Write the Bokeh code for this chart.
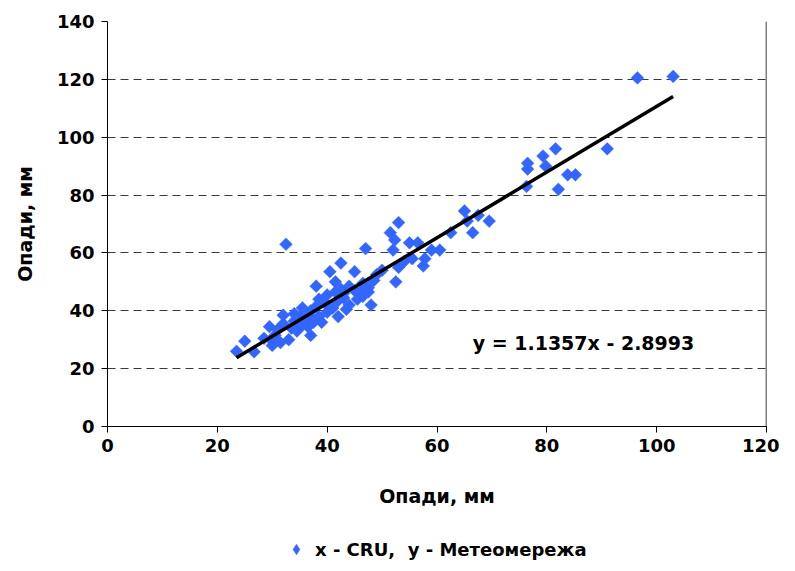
import numpy as np
from bokeh.plotting import figure
from bokeh.layouts import column
from bokeh.models import Legend, LegendItem, Span, Label, Range1d, FixedTicker
from bokeh.embed import file_html
from bokeh.resources import INLINE

# x - CRU precipitation (mm), y - station network precipitation (mm)
cru_x = [23.5, 25.0, 26.7, 28.5, 29.5, 29.8, 30.0, 30.5, 31.0, 31.5, 32.0, 32.0, 32.5, 33.0,
         33.5, 34.0, 34.0, 34.5, 35.0, 35.0, 35.5, 35.5, 36.0, 36.5, 37.0, 37.0, 37.5, 37.5,
         38.0, 38.0, 38.5, 38.5, 39.0, 39.5, 40.0, 40.0, 40.5, 40.5, 41.0, 41.5, 41.5, 42.0,
         42.0, 42.5, 42.5, 43.0, 43.0, 43.5, 44.0, 44.0, 45.0, 45.0, 45.5, 46.0, 46.5, 46.5,
         47.0, 47.5, 47.5, 48.0, 48.5, 49.0, 50.0, 51.5, 52.0, 52.3, 52.5, 53.0, 53.0, 54.0,
         55.0, 55.5, 56.5, 57.5, 57.8, 59.0, 60.5, 62.5, 65.0, 65.5, 66.5, 67.5, 69.5, 76.3,
         76.5, 76.5, 79.3, 79.8, 81.6, 82.1, 83.8, 85.2, 91.0, 96.5, 103.0]
meteo_y = [26.0, 29.5, 25.8, 30.5, 34.5, 30.0, 28.0, 31.5, 33.5, 29.0, 38.5, 35.5, 63.0, 30.0,
           34.0, 36.5, 39.0, 33.0, 38.0, 36.5, 41.0, 35.0, 37.5, 34.5, 40.0, 31.5, 36.0, 37.0,
           41.5, 48.5, 38.0, 44.0, 36.0, 43.0, 45.5, 39.5, 53.5, 41.0, 41.0, 46.5, 50.0, 43.5,
           38.0, 47.5, 56.5, 44.5, 46.0, 40.5, 48.5, 42.0, 47.0, 53.5, 44.0, 46.5, 49.5, 45.0,
           61.5, 46.5, 48.0, 42.0, 50.5, 52.5, 54.0, 67.0, 61.0, 64.5, 50.0, 70.5, 55.0, 57.0,
           63.5, 58.0, 63.5, 55.5, 58.0, 61.0, 61.0, 67.0, 74.5, 71.0, 67.0, 73.0, 71.0, 83.0,
           89.0, 91.0, 93.5, 90.0, 96.0, 82.0, 87.0, 87.0, 96.0, 120.5, 121.0]

slope = 1.1357
intercept = -2.8993
equation = "y = 1.1357x - 2.8993"
legend_label = "x - CRU,  y - Метеомережа"
axis_title = "Опади, мм"
ticks = [0, 20, 40, 60, 80, 100, 120, 140]

FONT = "DejaVu Sans"
BLUE = "#3366FF"
MARKER = dict(marker="square", angle=np.pi / 4, size=9,
              fill_color=BLUE, line_color=BLUE, line_width=0.5)

p = figure(width=779, height=515, output_backend="svg", toolbar_location=None,
           x_range=Range1d(0, 120), y_range=Range1d(0, 140),
           min_border_left=107, min_border_right=13, min_border_top=21, min_border_bottom=89)
p.outline_line_color = None
p.xgrid.grid_line_color = None
p.ygrid.grid_line_color = "#3a3a3a"
p.ygrid.grid_line_dash = "8 5"
p.ygrid.grid_line_width = 1

for ax in (p.xaxis, p.yaxis):
    ax.ticker = FixedTicker(ticks=ticks)
    ax.minor_tick_line_color = None
    ax.major_tick_in = 0
    ax.major_tick_out = 6
    ax.axis_line_color = "black"
    ax.major_tick_line_color = "black"
    ax.major_label_text_font = FONT
    ax.major_label_text_font_style = "bold"
    ax.major_label_text_font_size = "18px"
    ax.major_label_text_color = "black"
    ax.axis_label = axis_title
    ax.axis_label_text_font = FONT
    ax.axis_label_text_font_style = "bold"
    ax.axis_label_text_font_size = "19px"
    ax.axis_label_text_color = "black"
p.xaxis.major_label_standoff = 6
p.xaxis.axis_label_standoff = 30
p.yaxis.major_label_standoff = 7
p.yaxis.axis_label_standoff = 18

p.add_layout(Span(location=120, dimension="height", line_color="black", line_width=1.5))

pts = p.scatter(cru_x, meteo_y, **MARKER)

xs = np.array([min(cru_x), max(cru_x)])
p.line(xs, slope * xs + intercept, line_color="black", line_width=3.5)

p.add_layout(Label(x=66.5, y=28.7, text=equation, text_baseline="middle",
                   text_font=FONT, text_font_style="bold", text_font_size="19px",
                   text_color="black"))

# legend strip below the chart (its marker renderer sits outside the visible range)
p2 = figure(width=779, height=48, output_backend="svg", toolbar_location=None,
            x_range=Range1d(0, 1), y_range=Range1d(0, 1),
            x_axis_type=None, y_axis_type=None,
            min_border=0, min_border_left=0, min_border_right=0,
            min_border_top=0, min_border_bottom=0)
p2.outline_line_color = None
p2.grid.visible = False
dummy = p2.scatter([-5], [-5], marker="diamond", size=9,
                   fill_color=BLUE, line_color=BLUE, line_width=0.5)
legend = Legend(items=[LegendItem(label=legend_label, renderers=[dummy])],
                location=(176, 1), orientation="horizontal",
                label_text_font=FONT, label_text_font_style="bold",
                label_text_font_size="18px", label_text_color="black",
                border_line_color=None, background_fill_alpha=0,
                glyph_width=26, glyph_height=26, label_standoff=6, padding=4, margin=0)
p2.add_layout(legend, "center")

layout = column(p, p2, spacing=0)
open("out.html", "w").write(file_html(layout, INLINE))
